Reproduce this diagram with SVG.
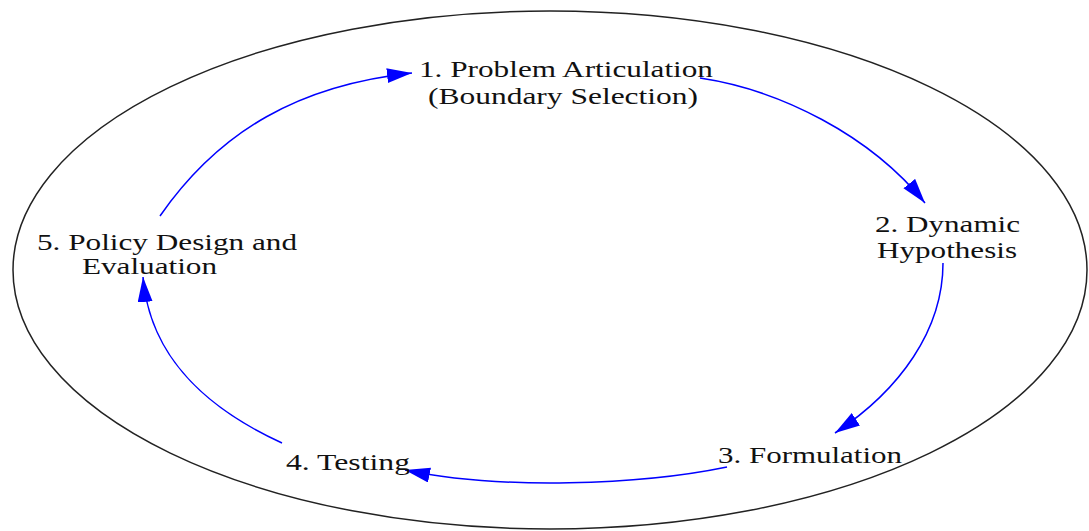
<svg xmlns="http://www.w3.org/2000/svg" width="1089" height="531" viewBox="0 0 1089 531">
  <style>
    .lbl { font-family: "Liberation Serif", "Times New Roman", serif; font-size: 24px; fill: #111; }
    .edge { fill: none; stroke: #0000ff; stroke-width: 1.5; }
    .boundary { fill: none; stroke: #222; stroke-width: 1.5; }
  </style>
  <defs>
    <marker id="arrow" markerUnits="userSpaceOnUse" markerWidth="28" markerHeight="18" refX="25" refY="7.5" orient="auto">
      <polygon points="0,0 25,7.5 0,15" fill="#0000ff"/>
    </marker>
  </defs>
  <rect width="1089" height="531" fill="#ffffff"/>
  <ellipse class="boundary" cx="550" cy="270" rx="537" ry="259"/>
  <g id="connectors">
    <path class="edge" d="M160,216 C220,130 300,85 412,73" marker-end="url(#arrow)"/>
    <path class="edge" d="M700,78 C780,90 870,135 925,203" marker-end="url(#arrow)"/>
    <path class="edge" d="M943,263 C943,330 900,390 835,433" marker-end="url(#arrow)"/>
    <path class="edge" d="M727,467 C640,485 500,490 405,470" marker-end="url(#arrow)"/>
    <path class="edge" d="M282,443 C210,410 150,360 143,277" marker-end="url(#arrow)"/>
  </g>
  <g id="node1">
    <text class="lbl" x="419" y="77" textLength="294" lengthAdjust="spacingAndGlyphs">1. Problem Articulation</text>
    <text class="lbl" x="428" y="104" textLength="270" lengthAdjust="spacingAndGlyphs">(Boundary Selection)</text>
  </g>
  <g id="node2">
    <text class="lbl" x="875" y="232" textLength="145" lengthAdjust="spacingAndGlyphs">2. Dynamic</text>
    <text class="lbl" x="877" y="258" textLength="140" lengthAdjust="spacingAndGlyphs">Hypothesis</text>
  </g>
  <g id="node3">
    <text class="lbl" x="718" y="463" textLength="184" lengthAdjust="spacingAndGlyphs">3. Formulation</text>
  </g>
  <g id="node4">
    <text class="lbl" x="286" y="470" textLength="124" lengthAdjust="spacingAndGlyphs">4. Testing</text>
  </g>
  <g id="node5">
    <text class="lbl" x="37" y="250" textLength="260" lengthAdjust="spacingAndGlyphs">5. Policy Design and</text>
    <text class="lbl" x="82" y="274" textLength="135" lengthAdjust="spacingAndGlyphs">Evaluation</text>
  </g>
</svg>
